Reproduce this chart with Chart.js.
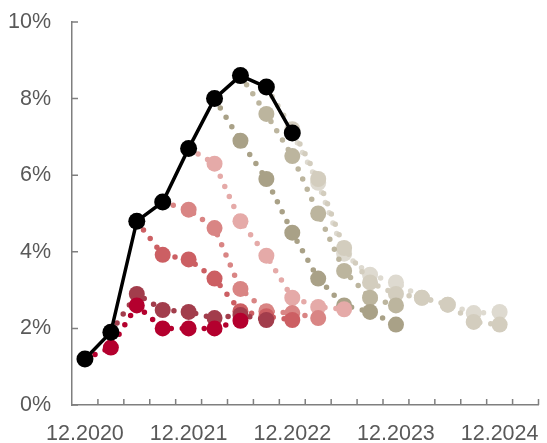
<!DOCTYPE html>
<html>
<head>
<meta charset="utf-8">
<script src="https://cdn.jsdelivr.net/npm/chart.js@4.4.1/dist/chart.umd.min.js"></script>
<style>
  html, body { margin: 0; padding: 0; background: #fff; }
  #chart { display: block; }
</style>
</head>
<body>
<canvas id="chart" width="547" height="443"></canvas>
<script>
(function() {
    'use strict';

    // x axis: quarters, only the December ones get a label
    const quarters = [
        '12.2020', '03.2021', '06.2021', '09.2021',
        '12.2021', '03.2022', '06.2022', '09.2022',
        '12.2022', '03.2023', '06.2023', '09.2023',
        '12.2023', '03.2024', '06.2024', '09.2024',
        '12.2024', '03.2025'
    ];
    const yTicks = [0, 2, 4, 6, 8, 10];

    // actual inflation, % y/y
    const actual = [1.2, 1.9, 4.8, 5.3, 6.7, 8.0, 8.6, 8.3, 7.1];

    // forecasts, each one starts at an actual reading (index in quarters)
    const forecastStart = [0, 1, 2, 3, 4, 5, 6, 7, 8];
    const fc2020q4 = [1.2, 1.5, 2.6, 2.0, 2.0, 2.0, 2.2];
    const fc2021q1 = [1.9, 2.9, 2.48, 2.43, 2.27, 2.35, 2.22];
    const fc2021q2 = [4.8, 3.92, 3.8, 3.3, 2.45, 2.32, 2.22];
    const fc2021q3 = [5.3, 5.1, 4.62, 3.03, 2.45, 2.4, 2.27];
    const fc2021q4 = [6.7, 6.3, 4.8, 3.9, 2.8, 2.56, 2.5];
    const fc2022q1 = [8.0, 6.9, 5.9, 4.5, 3.3, 2.6, 2.43, 2.1];
    const fc2022q2 = [8.6, 7.6, 6.5, 5.0, 3.5, 2.8, 2.6];
    const fc2022q3 = [8.3, 7.2, 5.9, 4.1, 3.2, 2.9, 2.8, 2.62, 2.17, 2.1];
    const fc2022q4 = [7.1, 5.8, 3.95, 3.4, 3.2, 2.8, 2.62, 2.4, 2.43];

    const forecasts = [fc2020q4, fc2021q1, fc2021q2, fc2021q3, fc2021q4,
                       fc2022q1, fc2022q2, fc2022q3, fc2022q4];
    const forecastColors = ['#b4002e', '#a23d4c', '#cc5f63', '#d98584', '#e5aaa8',
                            '#a9a187', '#bcb59e', '#d3cdbe', '#dedad0'];

    const axisColor = '#7f7f7f';
    const textColor = '#595959';
    const fontFamily = 'Arial, "Liberation Sans", sans-serif';

    // tick marks pointing into the plot area
    const innerTicks = {
        id: 'innerTicks',
        beforeDatasetsDraw(chart) {
            const { ctx, chartArea } = chart;
            const yScale = chart.scales.y;
            const step = chartArea.width / quarters.length;
            ctx.save();
            ctx.strokeStyle = axisColor;
            ctx.lineWidth = 1.5;
            ctx.beginPath();
            for (let i = 1; i <= quarters.length; i++) {
                const px = chartArea.left + i * step;
                ctx.moveTo(px, chartArea.bottom);
                ctx.lineTo(px, chartArea.bottom - 6);
            }
            yTicks.forEach(v => {
                const py = yScale.getPixelForValue(v);
                ctx.moveTo(chartArea.left, py);
                ctx.lineTo(chartArea.left + 6, py);
            });
            ctx.stroke();
            ctx.restore();
        }
    };

    function padSeries(start, values) {
        return new Array(start).fill(null).concat(values);
    }

    const datasets = [{
        label: 'actual',
        data: actual,
        borderColor: '#000',
        backgroundColor: '#000',
        borderWidth: 3.5,
        pointRadius: 8.5,
        pointBorderWidth: 0,
        tension: 0
    }];

    forecasts.forEach((values, i) => {
        const start = forecastStart[i];
        datasets.push({
            label: quarters[start],
            data: padSeries(start, values),
            borderColor: forecastColors[i],
            backgroundColor: forecastColors[i],
            borderWidth: 5.5,
            borderDash: [0, 11],
            borderCapStyle: 'round',
            pointRadius: ctx => ctx.dataIndex === start ? 0 : 8,
            pointBorderWidth: 0,
            tension: 0
        });
    });

    new Chart(document.getElementById('chart'), {
        type: 'line',
        data: { labels: quarters, datasets: datasets },
        options: {
            responsive: false,
            animation: false,
            devicePixelRatio: 1,
            layout: { padding: { top: 22, right: 2, left: 0, bottom: 0 } },
            plugins: {
                legend: { display: false },
                tooltip: { enabled: false }
            },
            scales: {
                x: {
                    offset: true,
                    grid: { display: false, drawTicks: false, tickLength: 0 },
                    border: { display: true, color: axisColor, width: 1.5 },
                    ticks: {
                        autoSkip: false,
                        maxRotation: 0,
                        padding: 16,
                        color: textColor,
                        font: { family: fontFamily, size: 21.5 },
                        callback: (value, index) => index % 4 === 0 ? quarters[index] : ''
                    },
                    afterFit: scale => {
                        scale.height = 38;
                        scale.paddingLeft = 0;
                        scale.paddingRight = 0;
                    }
                },
                y: {
                    min: 0,
                    max: 10,
                    grid: { display: false, drawTicks: false, tickLength: 0 },
                    border: { display: true, color: axisColor, width: 1.5 },
                    ticks: {
                        stepSize: 2,
                        padding: 21,
                        color: textColor,
                        font: { family: fontFamily, size: 21.5 },
                        callback: v => v + '%'
                    },
                    afterFit: scale => {
                        scale.width = 72;
                        scale.paddingTop = 0;
                        scale.paddingBottom = 0;
                    }
                }
            }
        },
        plugins: [innerTicks]
    });
})();
</script>
</body>
</html>
